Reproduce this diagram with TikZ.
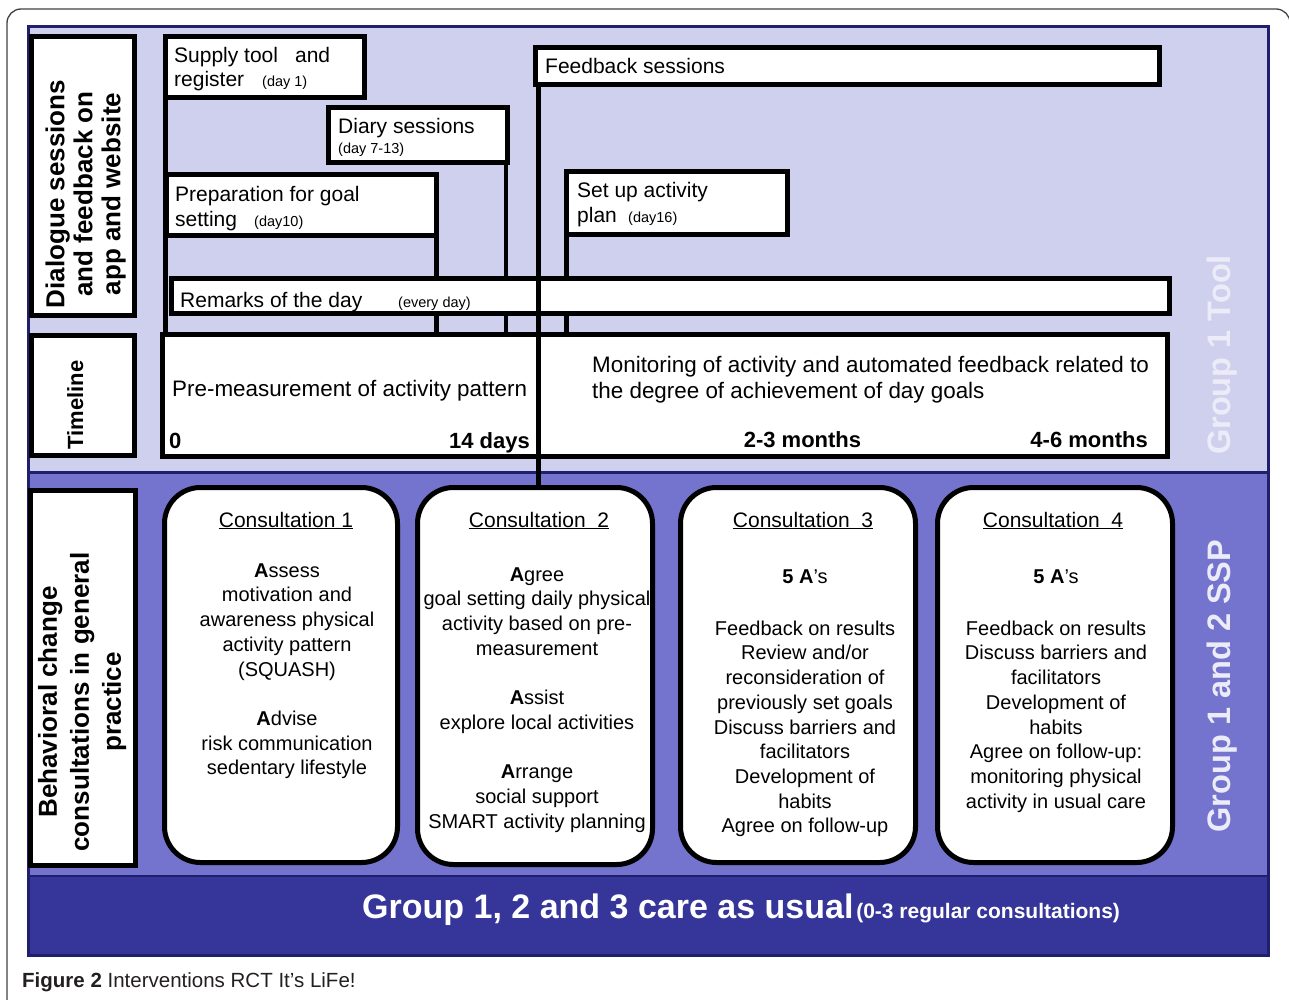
\documentclass[tikz,border=0pt]{standalone}
\usepackage{fontspec}
\setmainfont{Liberation Sans}
\usetikzlibrary{calc,shadows}
\definecolor{topcol}{HTML}{CFD0EE}
\definecolor{midcol}{HTML}{7473CD}
\definecolor{botcol}{HTML}{35359A}
\definecolor{navy}{HTML}{1F1F6E}
\definecolor{ltxt}{HTML}{ECECF8}
\definecolor{capcol}{HTML}{231F20}
\tikzset{
  box/.style={draw=black, line width=5pt, fill=white, inner sep=0pt, outer sep=0pt, anchor=north west,
    drop shadow={shadow xshift=2pt, shadow yshift=-2pt, fill=black, opacity=0.25}},
  cbox/.style={box, rounded corners=36pt},
  conn/.style={line width=4.5pt, black},
  lbl/.style={inner sep=0pt, anchor=base west, font=\fontsize{21}{25}\selectfont},
  sm/.style={inner sep=0pt, anchor=base west, font=\fontsize{14.5}{17}\selectfont},
  tltext/.style={inner sep=0pt, anchor=base west, font=\fontsize{22.4}{26}\selectfont},
  tlbold/.style={inner sep=0pt, font=\fontsize{22}{26}\selectfont\bfseries},
  rotlbl/.style={rotate=90, inner sep=0pt, align=center},
  ctitle/.style={inner sep=0pt, anchor=base, font=\fontsize{21}{25}\selectfont},
  cbody/.style={inner sep=0pt, anchor=north, align=center, font=\fontsize{20}{24.7}\selectfont},
  grp/.style={rotate=90, anchor=base, inner sep=0pt, text=ltxt, font=\fontsize{32.5}{36}\selectfont\bfseries}
}
\begin{document}
\begin{tikzpicture}[x=1pt,y=-1pt]
\useasboundingbox (0,0) rectangle (1289,1000);
% outer frame
\draw[black!75, line width=1.3pt, rounded corners=14pt] (7,1020) -- (7,9) -- (1290,9) -- (1290,1020);
% coloured bands
\fill[topcol] (27,25) rectangle (1270,472);
\fill[midcol] (27,472) rectangle (1270,876);
\fill[botcol] (27,876) rectangle (1270,957);
\draw[navy, line width=3pt] (28.5,27) rectangle (1268.5,955.5);
\draw[navy, line width=3pt] (27,472) -- (1270,472);
\draw[navy, line width=2.5pt] (27,876) -- (1270,876);

% top row boxes (nodes defined first for connectors)
\node[box, minimum width=103pt, minimum height=279pt] (dlg) at (31.5,36.5) {};
\node[box, minimum width=103pt, minimum height=120pt] (tl) at (31.5,335.5) {};
\node[box, minimum width=105pt, minimum height=375pt] (beh) at (30.5,490.5) {};
\node[box, minimum width=199pt, minimum height=61pt] (supply) at (165.5,36.5) {};
\node[box, minimum width=179pt, minimum height=55pt] (diary) at (328.5,107.5) {};
\node[box, minimum width=270pt, minimum height=61pt] (prep) at (166.5,174.5) {};
\node[box, minimum width=624pt, minimum height=37pt] (fb) at (535.5,47.5) {};
\node[box, minimum width=221pt, minimum height=63pt] (setup) at (566.5,171.5) {};
\node[box, minimum width=1005pt, minimum height=122pt] (tlbox) at (162.5,334.5) {};

% connectors down to the timeline
\coordinate (dline) at ($(diary.south east)+(-1.5,0)$);
\draw[conn] (supply.south west) -- (supply.south west |- tlbox.north);
\draw[conn] (prep.south east) -- (prep.south east |- tlbox.north);
\draw[conn] (dline) -- (dline |- tlbox.north);
\draw[conn] (setup.south west) -- (setup.south west |- tlbox.north);

% remarks box covers the connectors
\node[box, minimum width=998pt, minimum height=35pt] (remarks) at (171.5,278.5) {};

% consultation boxes
\node[cbox, minimum width=233pt, minimum height=375pt] (c1) at (164.5,487.5) {};
\node[cbox, minimum width=235pt, minimum height=377pt] (c2) at (417.5,487.5) {};
\node[cbox, minimum width=235pt, minimum height=375pt] (c3) at (680.5,487.5) {};
\node[cbox, minimum width=235pt, minimum height=375pt] (c4) at (937.5,487.5) {};

% feedback line on top
\coordinate (fbx) at ($(fb.south west)+(3,0)$);
\draw[conn] (fbx) -- (fbx |- c2.north);

% texts in top boxes
\node[lbl] (t1) at (174,63) {Supply tool\hspace{17pt}and};
\node[lbl] (t2) at (174,87) {register};
\node[sm] (t2s) at (262,87) {(day 1)};
\node[lbl] (t3) at (338,134) {Diary sessions};
\node[sm] (t3s) at (338,154) {(day 7-13)};
\node[lbl] (t4) at (175,202) {Preparation for goal};
\node[lbl] (t5) at (175,227) {setting};
\node[sm] (t5s) at (254,227) {(day10)};
\node[lbl] (t6) at (577,198) {Set up activity};
\node[lbl] (t7) at (577,223) {plan};
\node[sm] (t7s) at (628,223) {(day16)};
\node[lbl] (t8) at (545,74) {Feedback sessions};
\node[lbl] (t9) at (180,307) {Remarks of the day};
\node[sm] (t9s) at (398,307) {(every day)};

% timeline texts
\node[tltext] (pm) at (172,396) {Pre-measurement of activity pattern};
\node[tlbold, anchor=base west] (d0) at (169,448) {0};
\node[tlbold, anchor=base east] (d14) at (530,448) {14 days};
\node[tltext] (mon1) at (592,372) {Monitoring of activity and automated feedback related to};
\node[tltext] (mon2) at (592,398) {the degree of achievement of day goals};
\node[tlbold, anchor=base] (m23) at (802.5,447) {2-3 months};
\node[tlbold, anchor=base east] (m46) at (1148,447) {4-6 months};

% rotated row labels
\node[rotlbl, font=\fontsize{26}{28}\selectfont\bfseries] (dlgtxt) at (85.75,194) {Dialogue sessions\\ and feedback on\\ app and website};
\node[rotate=90, anchor=base, inner sep=0pt, font=\fontsize{22}{26}\selectfont\bfseries] (tltxt) at (83,405) {Timeline};
\node[rotlbl, font=\fontsize{26}{32}\selectfont\bfseries] (behtxt) at (82.25,702) {Behavioral change\\ consultations in general\\ practice};

% group labels
\node[grp] (g1) at (1230,355) {Group 1 Tool};
\node[grp] (g2) at (1230,686) {Group 1 and 2 SSP};

% consultation texts
\node[ctitle] (c1t) at (286,527) {\underline{Consultation 1}};
\node[ctitle] (c2t) at (539,527) {\underline{Consultation\ \ 2}};
\node[ctitle] (c3t) at (803,527) {\underline{Consultation\ \ 3}};
\node[ctitle] (c4t) at (1053,527) {\underline{Consultation\ \ 4}};

\node[cbody] (c1b) at (287,562) {\rule{0pt}{15pt}\textbf{A}ssess\\ motivation and\\ awareness physical\\ activity pattern\\ (SQUASH)\\[24.7pt] \textbf{A}dvise\\ risk communication\\ sedentary lifestyle};
\node[cbody] (c2b) at (537,566) {\rule{0pt}{15pt}\textbf{A}gree\\ goal setting daily physical\\ activity based on pre-\\ measurement\\[24.7pt] \textbf{A}ssist\\ explore local activities\\[24.7pt] \textbf{A}rrange\\ social support\\ SMART activity planning};
\node[cbody] (c3b) at (805,568) {\rule{0pt}{15pt}\textbf{5 A}’s\\[27.3pt] Feedback on results\\ Review and/or\\ reconsideration of\\ previously set goals\\ Discuss barriers and\\ facilitators\\ Development of\\ habits\\ Agree on follow-up};
\node[cbody] (c4b) at (1056,568) {\rule{0pt}{15pt}\textbf{5 A}’s\\[27.3pt] Feedback on results\\ Discuss barriers and\\ facilitators\\ Development of\\ habits\\ Agree on follow-up:\\ monitoring physical\\ activity in usual care};

% bottom band text
\node[inner sep=0pt, anchor=base west, text=white] (usual) at (362,918) {{\fontsize{34}{40}\selectfont\bfseries Group 1, 2 and 3 care as usual} {\fontsize{21}{25}\selectfont\bfseries (0-3 regular consultations)}};

% caption
\node[inner sep=0pt, anchor=base west, text=capcol, font=\fontsize{20.5}{24}\selectfont] (cap) at (22,987) {\textbf{Figure 2} Interventions RCT It’s LiFe!};
\end{tikzpicture}
\end{document}
